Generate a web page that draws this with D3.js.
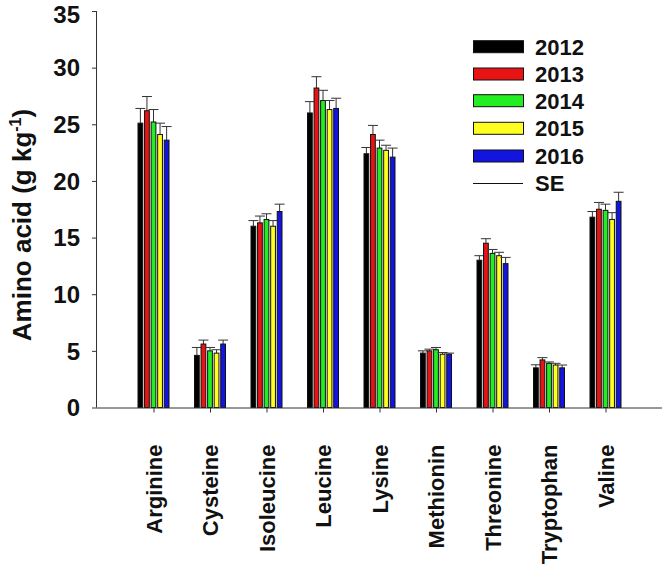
<!DOCTYPE html>
<html><head><meta charset="utf-8">
<script src="https://cdn.jsdelivr.net/npm/d3@7"></script>
<style>body{margin:0;background:#fff}svg{display:block}text{font-family:Arial,"Liberation Sans",sans-serif;font-weight:bold;fill:#111}</style>
</head><body><svg id="c" width="666" height="564"></svg>
<script>
const categories = ["Arginine","Cysteine","Isoleucine","Leucine","Lysine","Methionin","Threonine","Tryptophan","Valine"];
const years = ["2012","2013","2014","2015","2016"];
const colors = ["#000000","#e81414","#22ee22","#ffff22","#1414e0"];
const v2012 = [25.1, 4.6, 16.0, 26.0, 22.4, 4.8, 13.0, 3.5, 16.8];
const v2013 = [26.2, 5.6, 16.3, 28.2, 24.1, 5.0, 14.5, 4.2, 17.5];
const v2014 = [25.2, 5.0, 16.6, 27.1, 22.9, 5.1, 13.6, 3.9, 17.4];
const v2015 = [24.1, 4.8, 16.0, 26.3, 22.7, 4.7, 13.4, 3.75, 16.6];
const v2016 = [23.6, 5.6, 17.3, 26.4, 22.1, 4.7, 12.7, 3.5, 18.2];
const se2012 = [1.3, 0.7, 0.5, 1.0, 0.55, 0.2, 0.4, 0.27, 0.5];
const se2013 = [1.25, 0.35, 0.6, 1.0, 0.8, 0.15, 0.4, 0.2, 0.6];
const se2014 = [1.1, 0.3, 0.5, 0.9, 0.7, 0.2, 0.35, 0.12, 0.55];
const se2015 = [1.0, 0.3, 0.5, 0.8, 0.45, 0.15, 0.3, 0.15, 0.6];
const se2016 = [1.2, 0.35, 0.65, 0.9, 0.8, 0.1, 0.55, 0.25, 0.8];
const yTicks = [0,5,10,15,20,25,30,35];

const values = [v2012,v2013,v2014,v2015,v2016];
const ses = [se2012,se2013,se2014,se2015,se2016];

const svg = d3.select("#c");
const x0 = 97, x1 = 662, yTop = 11, yBot = 407.5;
const x = d3.scalePoint().domain(categories).range([x0, x1]).padding(1);
const xb = d3.scaleBand().domain(years).range([-16, 16]).paddingInner(0.12);
const y = d3.scaleLinear().domain([0,35]).range([yBot, yTop]);

// bars
years.forEach((yr, si) => {
  const g = svg.append("g");
  const data = categories.map((c, i) => ({c, v: values[si][i], se: ses[si][i]}));
  g.selectAll("line.err").data(data).enter().append("line")
    .attr("x1", d => x(d.c) + xb(yr) + xb.bandwidth()/2)
    .attr("x2", d => x(d.c) + xb(yr) + xb.bandwidth()/2)
    .attr("y1", d => y(d.v)).attr("y2", d => y(d.v + d.se))
    .attr("stroke", "#333").attr("stroke-width", 1);
  g.selectAll("line.cap").data(data).enter().append("line")
    .attr("x1", d => x(d.c) + xb(yr) + xb.bandwidth()/2 - 5)
    .attr("x2", d => x(d.c) + xb(yr) + xb.bandwidth()/2 + 5)
    .attr("y1", d => y(d.v + d.se)).attr("y2", d => y(d.v + d.se))
    .attr("stroke", "#333").attr("stroke-width", 1);
  g.selectAll("rect").data(data).enter().append("rect")
    .attr("x", d => x(d.c) + xb(yr) + 0.5)
    .attr("width", xb.bandwidth() - 1)
    .attr("y", d => y(d.v))
    .attr("height", d => y(0) - y(d.v))
    .attr("fill", colors[si]).attr("stroke", "#111").attr("stroke-width", 1);
});

// axes
const yAxis = d3.axisLeft(y).tickValues(yTicks).tickSize(5).tickPadding(12).tickFormat(d3.format("d"));
const ya = svg.append("g").attr("transform", `translate(${x0},0)`).call(yAxis);
ya.select(".domain").attr("d", `M-0.5,${yTop}V${yBot}`).attr("stroke", "#333");
ya.selectAll(".tick line").attr("stroke", "#333");
ya.selectAll(".tick text").style("font-size", "24px").style("font-family", "Arial, 'Liberation Sans', sans-serif").style("font-weight", "bold").attr("fill", "#111")
  .attr("dy", d => d === 35 ? "0.46em" : "0.34em");

const xAxis = d3.axisBottom(x).tickSize(5).tickSizeOuter(0);
const xa = svg.append("g").attr("transform", `translate(0,${yBot})`).call(xAxis);
xa.select(".domain").attr("d", `M${x0},0.5H${x1}`).attr("stroke", "#333");
xa.selectAll(".tick line").attr("stroke", "#333");
xa.selectAll(".tick text")
  .style("font-size", "22px").style("font-family", "Arial, 'Liberation Sans', sans-serif").style("font-weight", "bold").attr("fill", "#111")
  .attr("transform", "rotate(-90)")
  .attr("text-anchor", "end")
  .attr("x", -37).attr("y", 0).attr("dy", "0.36em");

// y title
const yt = svg.append("text")
  .attr("transform", "translate(31,225) rotate(-90)")
  .attr("text-anchor", "middle")
  .style("font-size", "26px");
yt.append("tspan").text("Amino acid (g kg");
yt.append("tspan").text("-1").style("font-size", "16px").attr("dy", "-10");
yt.append("tspan").text(")").attr("dy", "10");

// legend
const legY = [46.7, 74, 100.7, 128.3, 156];
const leg = svg.append("g");
years.forEach((yr, i) => {
  leg.append("rect").attr("x", 473.5).attr("y", legY[i] - 6).attr("width", 50).attr("height", 12)
    .attr("fill", colors[i]).attr("stroke", "#111").attr("stroke-width", 1);
  leg.append("text").attr("x", 535).attr("y", legY[i]).attr("dy", "0.36em").style("font-size", "22px").text(yr);
});
leg.append("line").attr("x1", 473).attr("x2", 523).attr("y1", 183.5).attr("y2", 183.5).attr("stroke", "#111");
leg.append("text").attr("x", 535).attr("y", 183.3).attr("dy", "0.36em").style("font-size", "22px").text("SE");
</script></body></html>
